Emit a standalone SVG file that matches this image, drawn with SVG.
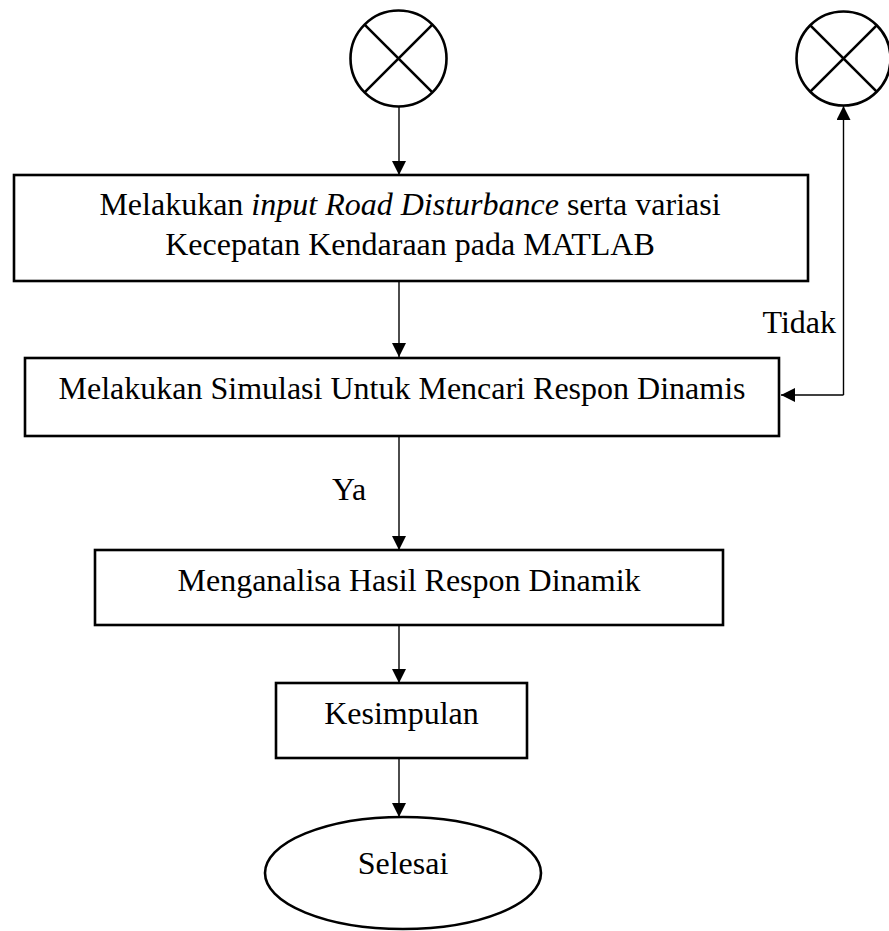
<svg xmlns="http://www.w3.org/2000/svg" width="889" height="931" viewBox="0 0 889 931">
<defs>
<style>
.box{fill:#fff;stroke:#000;stroke-width:2.6}
.sym{fill:none;stroke:#000;stroke-width:2.6}
.ln{fill:none;stroke:#000;stroke-width:1.4}
.t{font-family:"Liberation Serif","Times New Roman",serif;font-size:32px;fill:#000}
.c{text-anchor:middle}
</style>
<marker id="ah" viewBox="0 0 10 10" refX="10" refY="5" markerWidth="14" markerHeight="14" markerUnits="userSpaceOnUse" orient="auto">
<path d="M0,0 L10,5 L0,10 z" fill="#000"/>
</marker>
</defs>
<rect width="889" height="931" fill="#fff"/>
<g id="connectors">
<line class="ln" x1="399" y1="107" x2="399" y2="175" marker-end="url(#ah)"/>
<line class="ln" x1="399" y1="281" x2="399" y2="357" marker-end="url(#ah)"/>
<line class="ln" x1="399" y1="436" x2="399" y2="550" marker-end="url(#ah)"/>
<line class="ln" x1="399" y1="625" x2="399" y2="683" marker-end="url(#ah)"/>
<line class="ln" x1="399" y1="758" x2="399" y2="817" marker-end="url(#ah)"/>
<path class="ln" d="M843.5,395 L843.5,106" marker-end="url(#ah)"/>
<path class="ln" d="M843.5,395 L781,395" marker-end="url(#ah)"/>
<text class="t" x="836" y="333" text-anchor="end">Tidak</text>
<text class="t" x="332" y="500">Ya</text>
</g>
<g id="start1">
<circle class="sym" cx="398.5" cy="58.5" r="48"/>
<line class="sym" x1="364.6" y1="24.6" x2="432.4" y2="92.4"/>
<line class="sym" x1="432.4" y1="24.6" x2="364.6" y2="92.4"/>
</g>
<g id="start2">
<circle class="sym" cx="843.5" cy="58.5" r="47"/>
<line class="sym" x1="810.3" y1="25.3" x2="876.7" y2="91.7"/>
<line class="sym" x1="876.7" y1="25.3" x2="810.3" y2="91.7"/>
</g>
<g id="input">
<rect class="box" x="14" y="175" width="794" height="106"/>
<text class="t c" x="410" y="215">Melakukan <tspan font-style="italic">input Road Disturbance</tspan> serta variasi</text>
<text class="t c" x="410" y="255">Kecepatan Kendaraan pada MATLAB</text>
</g>
<g id="simulasi">
<rect class="box" x="25" y="358" width="754" height="78"/>
<text class="t c" x="402" y="399">Melakukan Simulasi Untuk Mencari Respon Dinamis</text>
</g>
<g id="analisa">
<rect class="box" x="95" y="550" width="628" height="75"/>
<text class="t c" x="409" y="591">Menganalisa Hasil Respon Dinamik</text>
</g>
<g id="kesimpulan">
<rect class="box" x="276" y="683" width="251" height="75"/>
<text class="t c" x="401.5" y="724">Kesimpulan</text>
</g>
<g id="selesai">
<ellipse class="sym" cx="403" cy="873" rx="138" ry="56"/>
<text class="t c" x="403" y="874">Selesai</text>
</g>
</svg>
